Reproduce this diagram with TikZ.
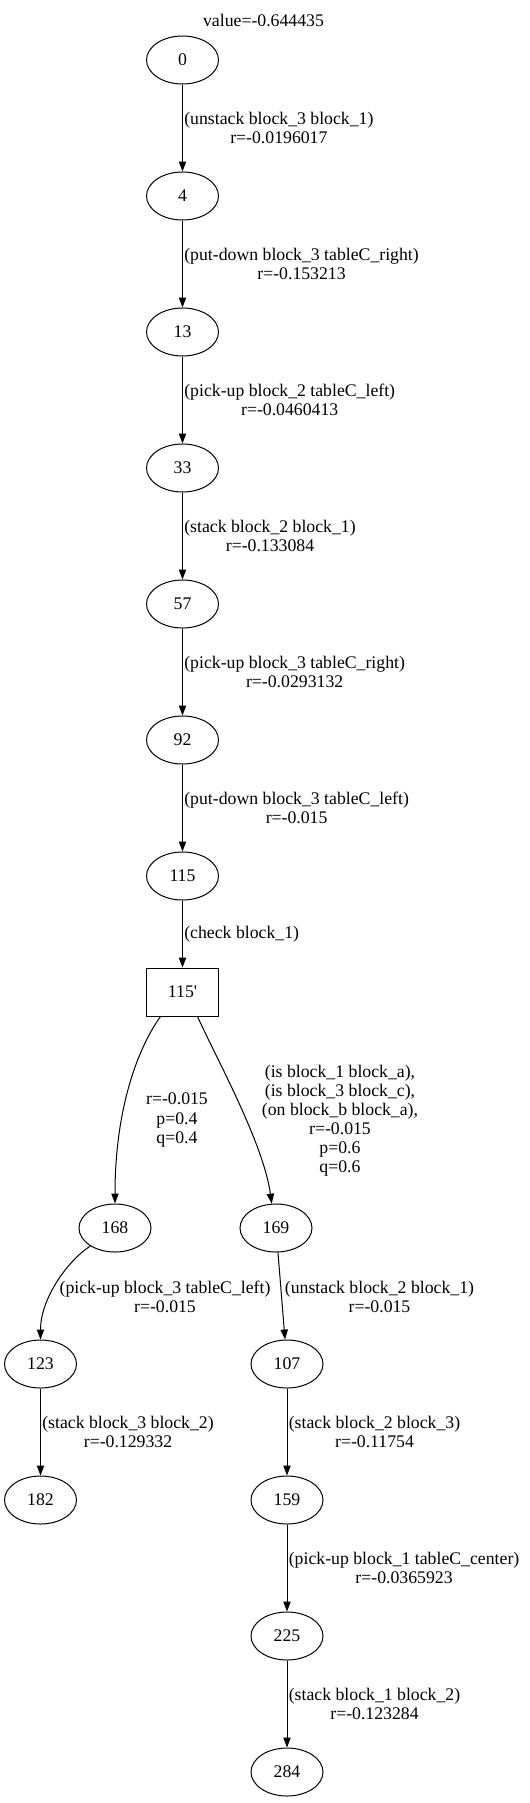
\documentclass[tikz,border=0pt]{standalone}
\usepackage{fontspec}
\setmainfont{Liberation Serif}
\usetikzlibrary{arrows.meta,shapes.geometric,calc}

\begin{document}
\begin{tikzpicture}[x=0.75pt,y=-0.75pt,>={Triangle[length=7.5pt,width=5.5pt]},
    line width=0.75pt,
    every node/.style={font=\fontsize{13.3}{14.3}\selectfont},
    state/.style={ellipse,draw,minimum width=54pt,minimum height=36pt,inner sep=0pt},
    chance/.style={rectangle,draw,minimum width=54pt,minimum height=36pt,inner sep=0pt},
    act/.style={align=center,inner sep=0pt}]
    \useasboundingbox (0,0) rectangle (529,1803);

    % value of the root
    \node (value) at (263.5,20.5) {value=-0.644435};

    % main chain
    \foreach \n/\y in {0/60,4/196,13/332,33/468,57/604,92/740,115/876}
        \node[state] (n\n) at (182.5,\y) {\n};

    \draw[->] (n0) -- node[act,right,xshift=1pt]
        {(unstack block\_3 block\_1)\\r=-0.0196017} (n4);
    \draw[->] (n4) -- node[act,right,xshift=1pt]
        {(put-down block\_3 tableC\_right)\\r=-0.153213} (n13);
    \draw[->] (n13) -- node[act,right,xshift=1pt]
        {(pick-up block\_2 tableC\_left)\\r=-0.0460413} (n33);
    \draw[->] (n33) -- node[act,right,xshift=1pt]
        {(stack block\_2 block\_1)\\r=-0.133084} (n57);
    \draw[->] (n57) -- node[act,right,xshift=1pt]
        {(pick-up block\_3 tableC\_right)\\r=-0.0293132} (n92);
    \draw[->] (n92) -- node[act,right,xshift=1pt]
        {(put-down block\_3 tableC\_left)\\r=-0.015} (n115);

    % chance node
    \node[chance] (c115) at (182.5,992) {115\textquotesingle};
    \draw[->] (n115) -- node[act,right,xshift=1pt] {(check block\_1)} (c115);

    % outcomes
    \node[state] (n168) at (115,1228) {168};
    \node[state] (n169) at (276,1228) {169};
    \draw[->] ($(c115.south)+(-22,0)$) .. controls +(-25,35) and +(0,-90) .. (n168.north);
    \node[act] (p168) at (177,1120) {r=-0.015\\p=0.4\\q=0.4};
    \draw[->] ($(c115.south)+(15,0)$) .. controls +(18,40) and +(-8,-60) .. (n169.100);
    \node[act] (p169) at (340,1121)
        {(is block\_1 block\_a),\\(is block\_3 block\_c),\\(on block\_b block\_a),\\r=-0.015\\p=0.6\\q=0.6};

    % left branch
    \node[state] (n123) at (40.5,1364) {123};
    \node[state] (n182) at (40.5,1500) {182};
    \draw[->] (n168.216) .. controls +(-24,16) and +(0,-40) .. (n123.north);
    \node[act] (l168) at (165,1297) {(pick-up block\_3 tableC\_left)\\r=-0.015};
    \draw[->] (n123) -- node[act,right,xshift=1pt]
        {(stack block\_3 block\_2)\\r=-0.129332} (n182);

    % right branch
    \node[state] (n107) at (287,1364) {107};
    \node[state] (n159) at (287,1500) {159};
    \node[state] (n225) at (287,1636) {225};
    \node[state] (n284) at (287,1772) {284};
    \draw[->] (n169) -- (n107);
    \node[act] (l169) at (379.5,1297) {(unstack block\_2 block\_1)\\r=-0.015};
    \draw[->] (n107) -- node[act,right,xshift=1pt]
        {(stack block\_2 block\_3)\\r=-0.11754} (n159);
    \draw[->] (n159) -- node[act,right,xshift=1pt]
        {(pick-up block\_1 tableC\_center)\\r=-0.0365923} (n225);
    \draw[->] (n225) -- node[act,right,xshift=1pt]
        {(stack block\_1 block\_2)\\r=-0.123284} (n284);

\end{tikzpicture}
\end{document}
